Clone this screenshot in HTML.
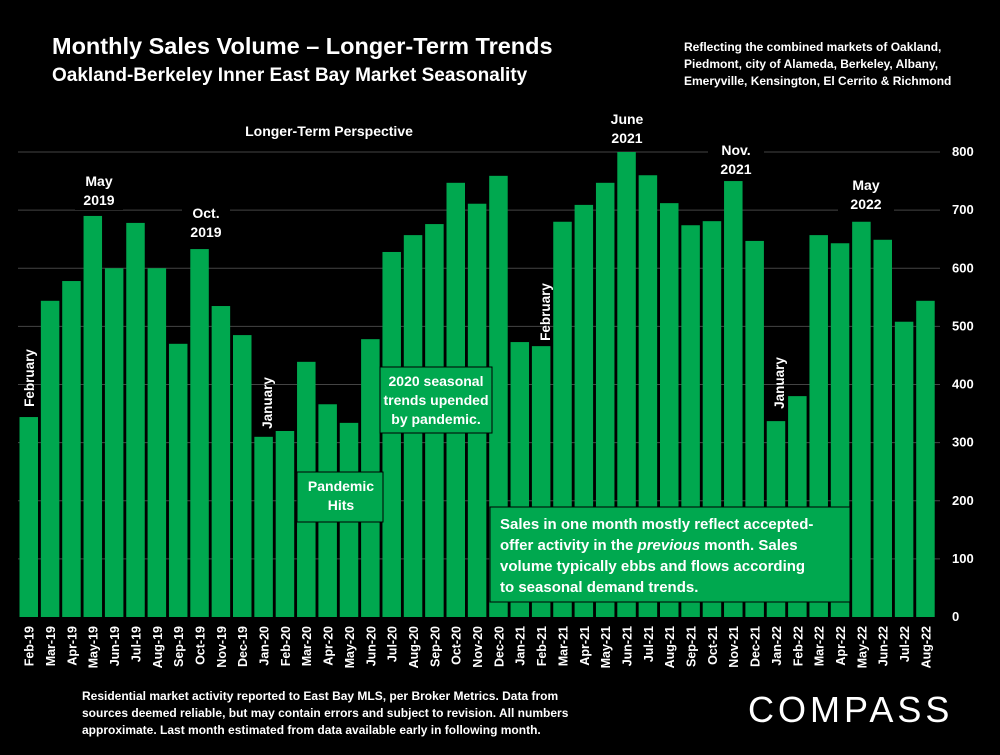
<!DOCTYPE html>
<html><head><meta charset="utf-8"><style>
body{margin:0;background:#000;width:1000px;height:750px;overflow:hidden;font-family:"Liberation Sans",sans-serif;color:#fff}
text{font-family:"Liberation Sans",sans-serif;fill:#fff;font-weight:bold}
</style></head><body>
<svg id="c" width="1000" height="750">
<text x="52" y="54" font-size="23.5">Monthly Sales Volume – Longer-Term Trends</text>
<text x="52" y="81" font-size="19">Oakland-Berkeley Inner East Bay Market Seasonality</text>
<g font-size="12">
<text x="684" y="51">Reflecting the combined markets of Oakland,</text>
<text x="684" y="68">Piedmont, city of Alameda, Berkeley, Albany,</text>
<text x="684" y="85">Emeryville, Kensington, El Cerrito &amp; Richmond</text></g>
<g id="grid"></g><g id="bars"></g><g id="xl"></g><g id="yl"></g>
<g id="ann"></g>
<g font-size="12">
<text x="82" y="700">Residential market activity reported to East Bay MLS, per Broker Metrics. Data from</text>
<text x="82" y="717">sources deemed reliable, but may contain errors and subject to revision. All numbers</text>
<text x="82" y="734">approximate. Last month estimated from data available early in following month.</text></g>
<text x="748" y="722" font-size="36" letter-spacing="4" style="font-weight:normal">COMPASS</text>
</svg>
<script>
const categories=["Feb-19","Mar-19","Apr-19","May-19","Jun-19","Jul-19","Aug-19","Sep-19","Oct-19","Nov-19","Dec-19","Jan-20","Feb-20","Mar-20","Apr-20","May-20","Jun-20","Jul-20","Aug-20","Sep-20","Oct-20","Nov-20","Dec-20","Jan-21","Feb-21","Mar-21","Apr-21","May-21","Jun-21","Jul-21","Aug-21","Sep-21","Oct-21","Nov-21","Dec-21","Jan-22","Feb-22","Mar-22","Apr-22","May-22","Jun-22","Jul-22","Aug-22"];
const values=[344,544,578,690,600,678,600,470,633,535,485,310,320,439,366,334,478,628,657,676,747,711,759,473,466,680,709,747,800,760,712,674,681,750,647,337,380,657,643,680,649,508,544];
const yTicks=[0,100,200,300,400,500,600,700,800];
const NS="http://www.w3.org/2000/svg";
const x0=18,slot=21.35,bw=18.5,yb=617,k=465/800;
const y=v=>yb-v*k, x=i=>x0+i*slot;
function el(t,a,p,txt){const e=document.createElementNS(NS,t);for(const q in a)e.setAttribute(q,a[q]);if(txt!=null)e.textContent=txt;document.getElementById(p).appendChild(e);return e;}
yTicks.forEach(t=>{
 if(t>0){const g=el('line',{x1:18,x2:940,y1:y(t),y2:y(t),stroke:'#444','stroke-width':1},'grid');
 
 }
 const l=el('text',{x:952,y:y(t)+4,'font-size':13},'yl',t);
 
 
});
values.forEach((v,i)=>{
 const r=el('rect',{x:x(i)+1.5,y:y(v),width:bw,height:yb-y(v),fill:'#00a84f'},'bars');
 
 
 const cx=x(i)+slot/2+5;
 const t=el('text',{x:cx,y:626,'font-size':12.5,'text-anchor':'end',transform:`rotate(-90 ${cx} 626)`},'xl',categories[i]);
 
 
});
function lbl(lines,cx,ty,name,bg){
 const g=el('g',{},'ann');
 
 
 if(bg){const r=document.createElementNS(NS,'rect');for(const q in bg)r.setAttribute(q,bg[q]);g.appendChild(r);}
 lines.forEach((s,j)=>{const t=document.createElementNS(NS,'text');t.setAttribute('x',cx);t.setAttribute('y',ty+j*19);t.setAttribute('font-size',14);t.setAttribute('text-anchor','middle');t.textContent=s;g.appendChild(t);});
}
lbl(["Longer-Term Perspective"],329,136,'perspective-label',{x:215,y:118,width:230,height:26,fill:'#000'});
lbl(["May","2019"],99,186,'may-2019-label',{x:75,y:170,width:48,height:40,fill:'#000'});
lbl(["Oct.","2019"],206,218,'oct-2019-label',{x:182,y:202,width:48,height:40,fill:'#000'});
lbl(["June","2021"],627,124,'june-2021-label',{x:600,y:108,width:54,height:40,fill:'#000'});
lbl(["Nov.","2021"],736,155,'nov-2021-label',{x:708,y:139,width:56,height:40,fill:'#000'});
lbl(["May","2022"],866,190,'may-2022-label',{x:838,y:174,width:56,height:40,fill:'#000'});
lbl(["Pandemic","Hits"],341,491,'pandemic-hits-note',{x:297,y:472,width:86,height:50,fill:'#00a84f',stroke:'#000'});
lbl(["2020 seasonal","trends upended","by pandemic."],436,386,'pandemic-2020-note',{x:380,y:367,width:112,height:66,fill:'#00a84f',stroke:'#000'});
function vl(s,cx,cy,name){const t=el('text',{x:cx,y:cy,'font-size':13.5,'text-anchor':'middle',transform:`rotate(-90 ${cx} ${cy})`},'ann',s);
 
 }
vl("February",34,378,'february-2019-label');
vl("January",272,403,'january-2020-label');
vl("February",550,312,'february-2021-label');
vl("January",784,383,'january-2022-label');
const g=el('g',{},'ann');


const rr=document.createElementNS(NS,'rect');
[['x',490],['y',507],['width',360],['height',95],['fill','#00a84f'],['stroke','#000']].forEach(a=>rr.setAttribute(a[0],a[1]));g.appendChild(rr);
[["Sales in one month mostly reflect accepted-"],["offer activity in the ","previous"," month. Sales"],["volume typically ebbs and flows according"],["to seasonal demand trends."]].forEach((ln,j)=>{
 const t=document.createElementNS(NS,'text');t.setAttribute('x',500);t.setAttribute('y',529+j*21);t.setAttribute('font-size',15);
 ln.forEach((s,m)=>{const sp=document.createElementNS(NS,'tspan');sp.textContent=s;if(m==1)sp.setAttribute('font-style','italic');t.appendChild(sp);});
 g.appendChild(t);});
</script>
</body></html>
